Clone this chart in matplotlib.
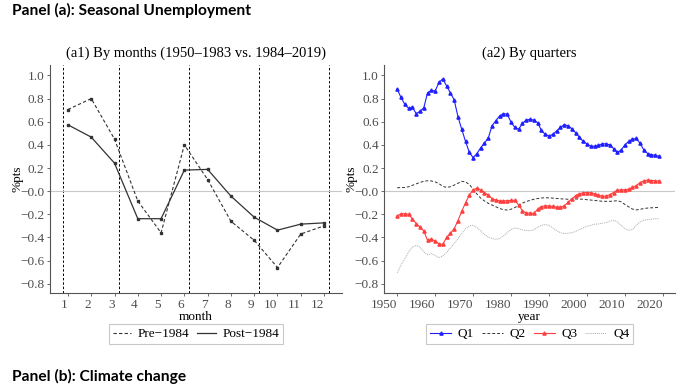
import matplotlib
matplotlib.use("Agg")
import matplotlib.pyplot as plt
import numpy as np

months = np.arange(1, 13)
pre_1984 = [0.705, 0.80, 0.45, -0.085, -0.36, 0.40, 0.10, -0.26, -0.425, -0.66, -0.37, -0.30]
post_1984 = [0.573, 0.467, 0.242, -0.238, -0.238, 0.182, 0.188, -0.043, -0.225, -0.337, -0.285, -0.274]
quarter_breaks = [0.8, 3.2, 6.2, 9.2, 12.2]

years = np.arange(1950, 2020)
q1 = [0.88, 0.81, 0.75, 0.715, 0.725, 0.67, 0.69, 0.72, 0.85, 0.87,
      0.865, 0.94, 0.97, 0.91, 0.85, 0.79, 0.645, 0.535, 0.43, 0.335,
      0.29, 0.325, 0.375, 0.415, 0.46, 0.565, 0.61, 0.65, 0.67, 0.665,
      0.595, 0.55, 0.535, 0.585, 0.615, 0.62, 0.615, 0.59, 0.525, 0.49,
      0.478, 0.49, 0.52, 0.55, 0.575, 0.565, 0.54, 0.505, 0.465, 0.43,
      0.408, 0.388, 0.388, 0.396, 0.408, 0.41, 0.40, 0.367, 0.335, 0.355,
      0.40, 0.43, 0.45, 0.455, 0.413, 0.355, 0.324, 0.315, 0.31, 0.30]
q2 = [0.03, 0.03, 0.032, 0.038, 0.05, 0.063, 0.075, 0.085, 0.09, 0.088,
      0.08, 0.065, 0.042, 0.032, 0.038, 0.052, 0.068, 0.085, 0.08, 0.058,
      0.018, -0.025, -0.06, -0.085, -0.105, -0.12, -0.135, -0.15, -0.16, -0.163,
      -0.156, -0.142, -0.122, -0.103, -0.09, -0.079, -0.07, -0.064, -0.059, -0.057,
      -0.058, -0.06, -0.063, -0.066, -0.068, -0.07, -0.07, -0.068, -0.068, -0.07,
      -0.074, -0.077, -0.08, -0.084, -0.087, -0.088, -0.088, -0.086, -0.082, -0.092,
      -0.115, -0.136, -0.155, -0.162, -0.157, -0.15, -0.146, -0.144, -0.142, -0.14]
q3 = [-0.215, -0.195, -0.195, -0.20, -0.24, -0.28, -0.31, -0.345, -0.425, -0.415,
      -0.43, -0.455, -0.46, -0.40, -0.365, -0.325, -0.255, -0.175, -0.10, -0.035,
      0.012, 0.025, 0.01, -0.012, -0.035, -0.064, -0.078, -0.084, -0.084, -0.082,
      -0.08, -0.08, -0.12, -0.17, -0.188, -0.19, -0.192, -0.156, -0.133, -0.127,
      -0.128, -0.132, -0.138, -0.14, -0.127, -0.098, -0.068, -0.038, -0.023, -0.014,
      -0.012, -0.014, -0.022, -0.035, -0.043, -0.043, -0.03, -0.012, 0.008, 0.012,
      0.012, 0.017, 0.032, 0.048, 0.074, 0.09, 0.095, 0.092, 0.09, 0.087]
q4 = [-0.705, -0.64, -0.585, -0.527, -0.483, -0.468, -0.483, -0.525, -0.55, -0.54,
      -0.555, -0.575, -0.56, -0.53, -0.49, -0.454, -0.41, -0.367, -0.325, -0.30,
      -0.295, -0.315, -0.344, -0.376, -0.396, -0.41, -0.416, -0.41, -0.387, -0.358,
      -0.332, -0.318, -0.324, -0.335, -0.341, -0.341, -0.335, -0.312, -0.295, -0.289,
      -0.295, -0.318, -0.341, -0.358, -0.367, -0.363, -0.36, -0.348, -0.332, -0.318,
      -0.303, -0.295, -0.286, -0.283, -0.277, -0.272, -0.26, -0.251, -0.266, -0.295,
      -0.324, -0.338, -0.332, -0.295, -0.266, -0.251, -0.246, -0.243, -0.238, -0.237]

yticks = np.round(np.arange(-0.8, 1.01, 0.2), 1)

plt.rcParams["font.family"] = "Liberation Serif"

fig = plt.figure(figsize=(6.96, 3.85), dpi=100)
ax1 = fig.add_axes([50 / 696, 92 / 385, 292 / 696, 228 / 385])
ax2 = fig.add_axes([384.3 / 696, 92 / 385, 290.7 / 696, 228 / 385])

fig.text(12 / 696, 1 - 10 / 385, "Panel (a): Seasonal Unemployment", family="Lato",
         weight="bold", fontsize=11.2, va="center", ha="left")
fig.text(12 / 696, 1 - 376 / 385, "Panel (b): Climate change", family="Lato",
         weight="bold", fontsize=11.2, va="center", ha="left")

# left panel
for xb in quarter_breaks:
    ax1.axvline(xb, color="black", ls=(0, (2.5, 2)), lw=0.7)
ax1.axhline(0, color="#c8c8c8", lw=0.8)
l_pre, = ax1.plot(months, pre_1984, color="#333333", ls=(0, (3, 2)), lw=0.8,
                  marker="s", ms=1.7)
l_post, = ax1.plot(months, post_1984, color="#333333", ls="-", lw=0.9,
                   marker="s", ms=1.7)
ax1.set_xlim(0.23, 12.77)
ax1.set_xticks(months)
ax1.set_xlabel("month", fontsize=9.5, labelpad=0)
ax1.set_title("(a1) By months (1950–1983 vs. 1984–2019)", fontsize=10.5, pad=6)

# right panel
ax2.axhline(0, color="#c8c8c8", lw=0.8)
h1, = ax2.plot(years, q1, color="#1f1fff", lw=0.8, marker="^", ms=2.3)
h2, = ax2.plot(years, q2, color="#333333", ls=(0, (3, 2)), lw=0.7)
h3, = ax2.plot(years, q3, color="#ff4040", lw=0.8, marker="^", ms=2.3)
h4, = ax2.plot(years, q4, color="#aaaaaa", ls=(0, (1, 1)), lw=0.7)
ax2.set_xlim(1946.6, 2023.2)
ax2.set_xticks(np.arange(1950, 2021, 10))
ax2.set_xlabel("year", fontsize=9.5, labelpad=0)
ax2.set_title("(a2) By quarters", fontsize=10.5, pad=6)

fmt = plt.FuncFormatter(lambda v, _: f"{v:.1f}".replace("-", "\u2212"))
for ax in (ax1, ax2):
    ax.set_ylim(-0.88, 1.09)
    ax.set_yticks(yticks)
    ax.yaxis.set_major_formatter(fmt)
    ax.set_ylabel("%pts", fontsize=9.5, labelpad=-2)
    ax.spines["top"].set_visible(False)
    ax.spines["right"].set_visible(False)
    ax.spines["left"].set_color("#555555")
    ax.spines["bottom"].set_color("#555555")
    ax.tick_params(colors="#555555", labelcolor="#4d4d4d", labelsize=9.5,
                   length=2.5, width=0.6, pad=1.5)
    for lab in ax.get_xticklabels():
        lab.set_ha("right")

leg1 = ax1.legend([l_pre, l_post], ["Pre\u22121984", "Post\u22121984"], loc="center",
                  bbox_to_anchor=(0.5, -0.18), ncol=2, fontsize=9.5, frameon=True,
                  fancybox=False, handlelength=1.4, columnspacing=0.6,
                  handletextpad=0.5, borderpad=0.3)
for h in leg1.get_lines():
    h.set_marker("")
leg2 = ax2.legend([h1, h2, h3, h4], ["Q1", "Q2", "Q3", "Q4"], loc="center",
                  bbox_to_anchor=(0.5, -0.18), ncol=4, fontsize=9.5, frameon=True,
                  fancybox=False, handlelength=1.6, columnspacing=0.6,
                  handletextpad=0.5, borderpad=0.3, markerscale=1.0, numpoints=1)
for leg in (leg1, leg2):
    leg.get_frame().set_edgecolor("#bbbbbb")
    leg.get_frame().set_linewidth(0.8)

fig.savefig("out.png", dpi=100)
